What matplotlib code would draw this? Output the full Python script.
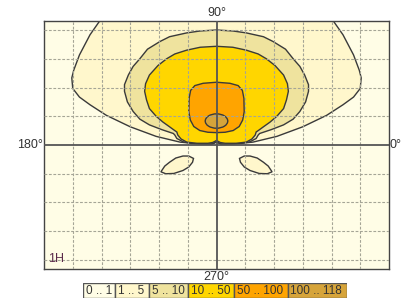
import numpy as np
import matplotlib
matplotlib.use("Agg")
import matplotlib.pyplot as plt
from matplotlib.patches import Ellipse

plt.rcParams['font.family'] = ['Liberation Sans', 'DejaVu Sans']

# value bands of the legend
band_labels = ["0 .. 1", "1 .. 5", "5 .. 10", "10 .. 50", "50 .. 100", "100 .. 118"]
band_colors = ["#FFFDE6", "#FFF7CC", "#EFE39E", "#FFD600", "#FFA400", "#D6A43A"]

# contour outlines, left half (x deg, y deg), mirrored for the right half
outer_x = [-118, -132, -143, -149, -151, -150, -143, -132, -115, -90, -63, -38, -17, -5, 0]
outer_y = [135, 115, 94, 78, 70, 59, 50, 42, 31, 19, 9, 3, 1, 0.7, 3]

c5_x = [0, -17, -31, -49, -59, -72, -80, -87, -92, -96, -96, -93, -87, -80, -70, -57, -45,
        -43.5, -41.4, -35, -26, -12, -4, 0]
c5_y = [120, 119, 117, 113, 108, 100, 90, 82, 73, 63, 56, 45, 35, 27, 21, 16, 12,
        10.4, 6.8, 3.4, 1.6, 1, 1.3, 3.6]

c10_x = [0, -17, -31, -43.5, -52, -61, -70, -74, -75, -73, -70, -63, -56, -49, -43.5,
         -41.4, -40.4, -37, -31, -20.5, -9, -4, 0]
c10_y = [103, 102, 99, 95, 90, 83, 73, 64, 56, 47, 38, 30, 24, 19, 15,
         13.6, 10.4, 6.3, 3, 1.8, 1.8, 2.6, 4.7]

c50_x = [0, -14, -22.6, -27, -28.6, -28.9, -27.3, -23.7, -17.4, -9, 0]
c50_y = [65.5, 64.4, 62, 57, 48.7, 34.7, 26, 19.3, 15.1, 13.3, 12.9]

core_center = (0, 25)
core_size = (23.5, 15)

lobe_x = [-58, -54, -49, -42.5, -35, -29, -24, -25, -29, -35, -44.5, -53]
lobe_y = [-28, -22, -18, -13.6, -11.5, -11.5, -14, -18, -23, -26.6, -29.7, -30]

fig = plt.figure(figsize=(4.04, 3.04), dpi=100)
ax = fig.add_axes([44 / 404, 35 / 304, 345 / 404, 248 / 304])
ax.set_facecolor(band_colors[0])
ax.set_xlim(-180, 180)
ax.set_ylim(-129.4, 129.4)

edge = "#3a3a3a"


def full(xs, ys):
    # left half then mirrored right half
    x = list(xs) + [-v for v in reversed(xs)]
    y = list(ys) + list(reversed(ys))
    return x, y


for (xs, ys), col in zip([(outer_x, outer_y), (c5_x, c5_y), (c10_x, c10_y), (c50_x, c50_y)],
                         band_colors[1:5]):
    x, y = full(xs, ys)
    ax.fill(x, y, facecolor=col, edgecolor=edge, lw=1.0, zorder=2)

ax.add_patch(Ellipse(core_center, core_size[0], core_size[1], facecolor=band_colors[5],
                     edgecolor=edge, lw=1.0, zorder=2))

# the two small lobes below the horizon
ax.fill(lobe_x, lobe_y, facecolor=band_colors[1], edgecolor=edge, lw=1.0, zorder=2)
ax.fill([-v for v in lobe_x], lobe_y, facecolor=band_colors[1], edgecolor=edge, lw=1.0, zorder=2)

# grid
for gx in range(-150, 180, 30):
    if gx != 0:
        ax.axvline(gx, color="#a5a596", lw=0.8, ls=(0, (2.5, 1.5)), zorder=3)
for gy in [-120, -90, -60, -30, 30, 60, 90, 120]:
    ax.axhline(gy, color="#a5a596", lw=0.8, ls=(0, (2.5, 1.5)), zorder=3)
ax.axvline(0, color="#555555", lw=1.3, zorder=4)
ax.axhline(0, color="#555555", lw=1.3, zorder=4)

ax.set_xticks([])
ax.set_yticks([])
for s in ax.spines.values():
    s.set_color("#444444")
    s.set_linewidth(1.0)

ax.text(0.012, 0.015, "1H", transform=ax.transAxes, fontsize=9, color="#5A2A4A",
        ha="left", va="bottom", zorder=5)

tc = "#333333"
fig.text(216.7 / 404, 1 - 13 / 304, "90°", ha="center", va="center", fontsize=9, color=tc)
fig.text(216.7 / 404, 1 - 276.5 / 304, "270°", ha="center", va="center", fontsize=9, color=tc)
fig.text(43 / 404, 1 - 145 / 304, "180°", ha="right", va="center", fontsize=9, color=tc)
fig.text(390 / 404, 1 - 145 / 304, "0°", ha="left", va="center", fontsize=9, color=tc)

# legend strip
box_widths = [31.7, 34, 39.3, 46, 53, 59.4]
lax = fig.add_axes([83.3 / 404, 5.7 / 304, 263.7 / 404, 15 / 304])
lefts = np.concatenate([[0], np.cumsum(box_widths)[:-1]])
lax.barh(0.5, box_widths, left=lefts, height=1, color=band_colors, edgecolor="#555555", lw=1)
for l, lab in zip(lefts, band_labels):
    lax.text(l + 2.5, 0.5, lab, ha="left", va="center", fontsize=8.5, color=tc)
lax.set_xlim(0, sum(box_widths))
lax.set_ylim(0, 1)
lax.axis("off")

fig.savefig("out.png", dpi=100)
